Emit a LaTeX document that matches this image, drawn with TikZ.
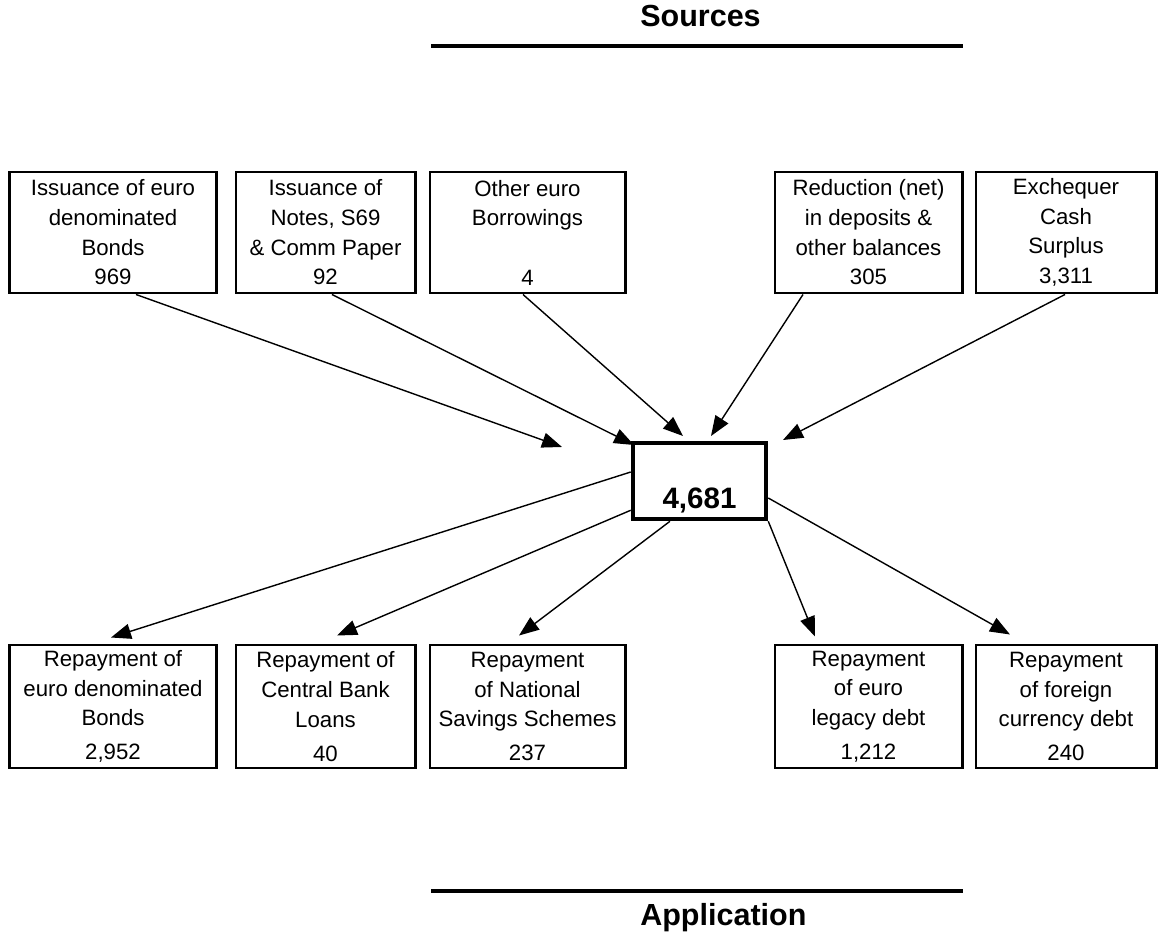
\documentclass[tikz,border=0pt]{standalone}
\usepackage{fontspec}
\setmainfont{Liberation Sans}
\usetikzlibrary{arrows.meta,calc}

\begin{document}
\begin{tikzpicture}[x=0.025cm, y=-0.025cm,
    box/.style={draw, line width=2.1pt, align=center, inner sep=0pt,
      font=\fontsize{15.8}{21.1}\selectfont},
    srcbox/.style={box, minimum height=3.025cm},
    appbox/.style={box, minimum height=3.075cm},
    totalbox/.style={draw, line width=3.2pt, inner sep=0pt,
      minimum width=3.325cm, minimum height=1.9cm,
      text height=1.35cm, text depth=0pt,
      font=\fontsize{21}{25}\bfseries\selectfont},
    heading/.style={anchor=base west, inner sep=0pt,
      font=\fontsize{21.7}{26}\bfseries\selectfont},
    rule/.style={line width=2.85pt},
    flow/.style={line width=1pt, -{Triangle[length=0.5cm,width=0.38cm]}}]
  \useasboundingbox (0,0) rectangle (1160,933);

  \node[heading] (sources) at (640,27) {Sources};
  \draw[rule] (431,46) -- (963,46);
  \draw[rule] (431,891) -- (963,891);
  \node[heading] (application) at (640,925) {Application};

  \node[srcbox, minimum width=5.15cm]  (src1) at (113,232.5)  {Issuance of euro\\denominated\\Bonds\\969};
  \node[srcbox, minimum width=4.475cm] (src2) at (325.5,232.5) {Issuance of\\Notes, S69\\\& Comm Paper\\92};
  \node[srcbox, minimum width=4.875cm] (src3) at (527.5,232.5) {Other euro\\Borrowings\\\mbox{}\\4};
  \node[srcbox, minimum width=4.675cm] (src4) at (868.5,232.5) {Reduction (net)\\in deposits \&\\other balances\\305};
  \node[srcbox, minimum width=4.5cm]   (src5) at (1066,232.5)  {Exchequer\\Cash\\Surplus\\3,311};

  \node[totalbox] (total) at (699.5,481) {4,681};

  \node[appbox, minimum width=5.15cm]  (app1) at (113,706.5)  {Repayment of\\euro denominated\\Bonds\\[3pt]2,952};
  \node[appbox, minimum width=4.475cm] (app2) at (325.5,706.5) {Repayment of\\Central Bank\\Loans\\[3pt]40};
  \node[appbox, minimum width=4.875cm] (app3) at (527.5,706.5) {Repayment\\of National\\Savings Schemes\\[3pt]237};
  \node[appbox, minimum width=4.675cm] (app4) at (868.5,706.5) {Repayment\\of euro\\legacy debt\\[3pt]1,212};
  \node[appbox, minimum width=4.5cm]   (app5) at (1066,706.5)  {Repayment\\of foreign\\currency debt\\[3pt]240};

  \coordinate (in1) at (562,447);
  \coordinate (in2) at (634,445);
  \coordinate (in3) at (683,436);
  \coordinate (in4) at (711,436);
  \coordinate (in5) at (783,440);
  \draw[flow] ($(src1.south)+(23,0)$) -- (in1);
  \draw[flow] ($(src2.south)+(6.5,0)$) -- (in2);
  \draw[flow] ($(src3.south)+(-4.5,0)$) -- (in3);
  \draw[flow] ($(src4.south)+(-65.5,0)$) -- (in4);
  \draw[flow] ($(src5.south)+(-1,0)$) -- (in5);

  \coordinate (out1) at ($(app1.north)+(-2,-6)$);
  \coordinate (out2) at ($(app2.north)+(11.5,-8)$);
  \coordinate (out3) at ($(app3.north)+(-8.5,-8)$);
  \coordinate (out4) at ($(app4.north)+(-53.5,-7)$);
  \coordinate (out5) at ($(app5.north)+(-56,-9)$);
  \draw[flow] ($(total.west)+(0,-9)$) -- (out1);
  \draw[flow] ($(total.south west)+(0,-11)$) -- (out2);
  \draw[flow] ($(total.south)+(-29.5,0)$) -- (out3);
  \draw[flow] (total.south east) -- (out4);
  \draw[flow] ($(total.east)+(0,17)$) -- (out5);
\end{tikzpicture}
\end{document}
